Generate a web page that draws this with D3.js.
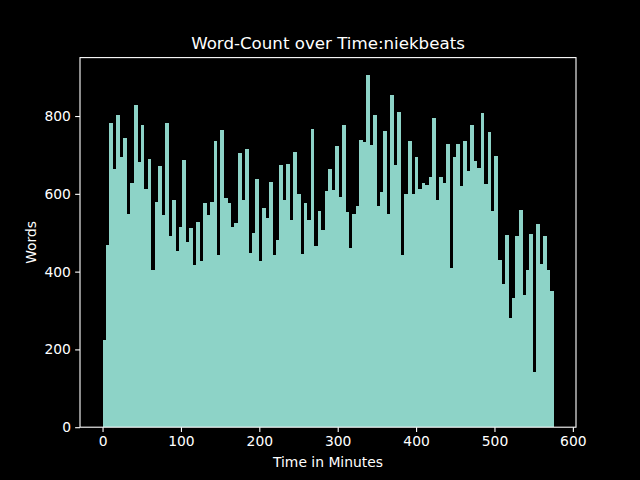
<!DOCTYPE html>
<html>
<head>
<meta charset="utf-8">
<script src="https://cdn.jsdelivr.net/npm/d3@7"></script>
<style>
  html, body { margin: 0; padding: 0; background: #000; }
  svg { display: block; }
</style>
</head>
<body>
<svg id="chart" width="640" height="480"></svg>
<script>
// ---- data ----
const title = "Word-Count over Time:niekbeats";
const xLabel = "Time in Minutes";
const yLabel = "Words";
const binWidthMinutes = 4.425;   // width of each time bin (minutes)
const words = [
  224, 468, 782, 664, 802, 694, 743, 549, 628, 828,
  682, 777, 613, 689, 405, 579, 671, 546, 782, 492,
  584, 453, 514, 687, 476, 512, 418, 527, 427, 576,
  545, 579, 736, 442, 764, 589, 576, 514, 525, 705,
  584, 715, 448, 499, 638, 427, 563, 538, 630, 442,
  481, 674, 584, 676, 532, 707, 599, 445, 576, 532,
  766, 466, 556, 507, 607, 664, 610, 723, 592, 777,
  553, 460, 548, 568, 738, 733, 905, 725, 802, 568,
  604, 761, 548, 854, 674, 810, 442, 599, 736, 599,
  694, 612, 628, 622, 643, 795, 584, 643, 628, 728,
  409, 694, 728, 620, 736, 658, 777, 684, 666, 808,
  625, 759, 556, 697, 430, 368, 494, 280, 332, 491,
  558, 340, 404, 496, 141, 522, 419, 491, 404, 350
];
const xTicks = [0, 100, 200, 300, 400, 500, 600];
const yTicks = [0, 200, 400, 600, 800];

// ---- layout (matplotlib default 640x480) ----
const W = 640, H = 480;
const mLeft = 80, mRight = 576, mTop = 57.6, mBottom = 427.2;
const barColor = "#8dd3c7";
const fg = "#ffffff";
const font = "'DejaVu Sans', sans-serif";

const svg = d3.select("#chart");
svg.append("rect").attr("width", W).attr("height", H).attr("fill", "#000");

const xMax = words.length * binWidthMinutes;
const yMax = d3.max(words);
const x = d3.scaleLinear().domain([-0.05 * xMax, 1.05 * xMax]).range([mLeft, mRight]);
const y = d3.scaleLinear().domain([0, 1.05 * yMax]).range([mBottom, mTop]);

// bars
svg.append("g")
  .attr("shape-rendering", "crispEdges")
  .selectAll("rect")
  .data(words)
  .join("rect")
  .attr("x", (d, i) => x(i * binWidthMinutes))
  .attr("width", (d, i) => x((i + 1) * binWidthMinutes) - x(i * binWidthMinutes) + 0.3)
  .attr("y", d => y(d))
  .attr("height", d => y(0) - y(d))
  .attr("fill", barColor);

// axes
const xAxis = d3.axisBottom(x).tickValues(xTicks).tickSize(4.86).tickPadding(4.2).tickFormat(d3.format("d"));
const yAxis = d3.axisLeft(y).tickValues(yTicks).tickSize(4.86).tickPadding(4.2).tickFormat(d3.format("d"));

const gx = svg.append("g").attr("transform", `translate(0,${mBottom})`).call(xAxis);
const gy = svg.append("g").attr("transform", `translate(${mLeft},0)`).call(yAxis);
[gx, gy].forEach(g => {
  g.select(".domain").remove();
  g.selectAll(".tick line").attr("stroke", fg).attr("stroke-width", 1.1);
  g.selectAll(".tick text").attr("fill", fg).attr("font-family", font).attr("font-size", 13.89);
});

// spines
svg.append("rect")
  .attr("x", mLeft).attr("y", mTop)
  .attr("width", mRight - mLeft).attr("height", mBottom - mTop)
  .attr("fill", "none").attr("stroke", fg).attr("stroke-width", 1.1);

// title & labels
svg.append("text")
  .attr("x", (mLeft + mRight) / 2).attr("y", 49)
  .attr("text-anchor", "middle").attr("fill", fg)
  .attr("font-family", font).attr("font-size", 16.67)
  .text(title);

svg.append("text")
  .attr("x", (mLeft + mRight) / 2).attr("y", 467)
  .attr("text-anchor", "middle").attr("fill", fg)
  .attr("font-family", font).attr("font-size", 13.89)
  .text(xLabel);

svg.append("text")
  .attr("transform", `translate(36,${(mTop + mBottom) / 2}) rotate(-90)`)
  .attr("text-anchor", "middle").attr("fill", fg)
  .attr("font-family", font).attr("font-size", 13.89)
  .text(yLabel);
</script>
</body>
</html>
